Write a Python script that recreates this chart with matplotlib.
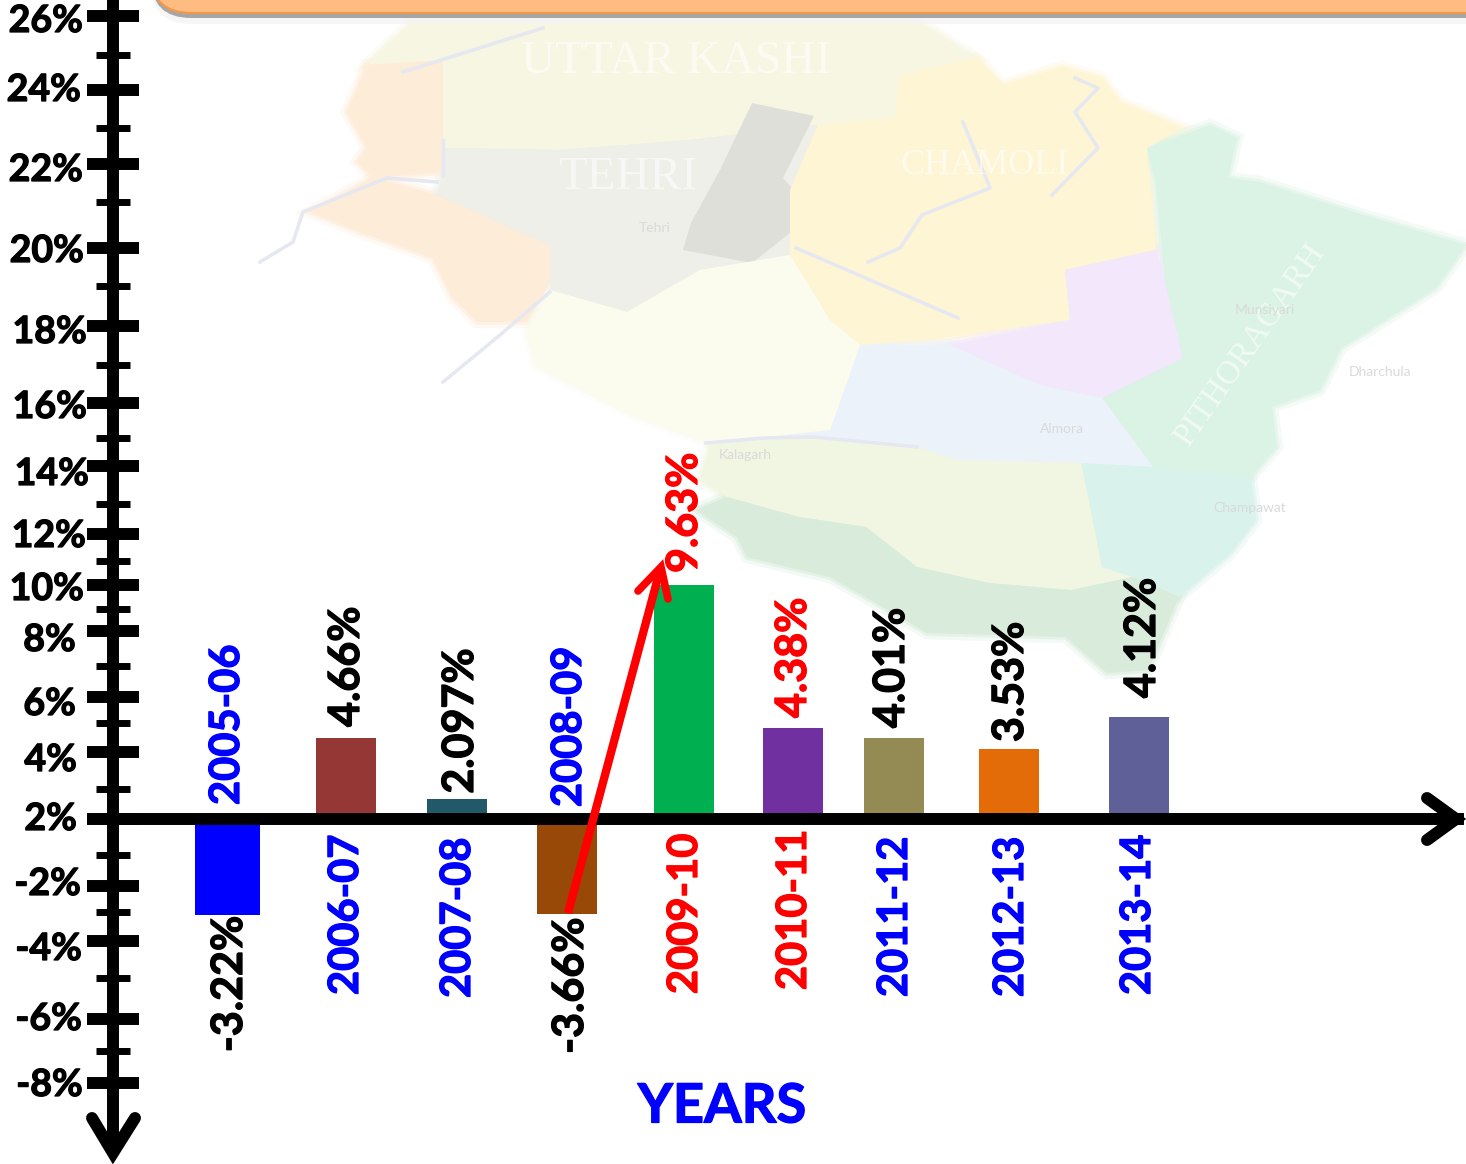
import numpy as np
import matplotlib
matplotlib.use("Agg")
import matplotlib.pyplot as plt
import matplotlib.patheffects as pe
from matplotlib.patches import Polygon, FancyBboxPatch
from matplotlib.transforms import Affine2D

# =============================
# Data
# =============================
years = ["2005-06", "2006-07", "2007-08", "2008-09", "2009-10",
         "2010-11", "2011-12", "2012-13", "2013-14"]
value_labels = ["-3.22%", "4.66%", "2.097%", "-3.66%", "9.63%",
                "4.38%", "4.01%", "3.53%", "4.12%"]
# bar ends as read against the drawn axis (it is not to scale with the labels)
bar_ends = [-3.1, 4.5, 2.67, -3.07, 10.0, 4.83, 4.48, 4.1, 5.23]
major_ticks = [26, 24, 22, 20, 18, 16, 14, 12, 10, 8, 6, 4, 2, -2, -4, -6, -8]
minor_ticks = [25, 23, 21, 19, 17, 15, 13, 11, 9, 7, 5, 3, 0, -3, -5, -7]

# =============================
# Layout (pixels of the 1466x1164 picture)
# =============================
W, H = 1466, 1164
BASELINE = 2

# the printed axis has uneven gaps, so the y scale is piecewise
scale_vals = [-10, -8, -7, -6, -5, -4, -3, -2, 0, 2, 3, 4, 5, 6, 7, 8, 9, 10,
              11, 12, 13, 14, 15, 16, 17, 18, 19, 20, 21, 22, 23, 24, 25, 26, 26.5]
scale_pix = [1164, 1083, 1051, 1019, 978, 941, 912, 886, 855, 819, 789, 752, 723, 697,
             666, 631, 609, 585, 561, 534, 504, 466, 438, 403, 365, 326, 286, 248,
             202, 164, 128, 90, 55, 16, 0]

bar_x = [227.5, 346, 457, 567, 684, 793, 894, 1009, 1139]
bar_w = [65, 60, 60, 60, 60, 60, 60, 60, 60]
bar_colors = ["#0000FF", "#953735", "#215968", "#984807", "#00B050",
              "#7030A0", "#948A54", "#E36C09", "#5F6098"]

year_x = [227, 346, 458, 569, 685, 794, 895, 1011, 1138]
year_y = [725, 915, 918, 727, 914, 910, 917, 917, 915]
year_colors = ["blue", "blue", "blue", "blue", "red", "red", "blue", "blue", "blue"]
val_x = [229, 346, 460, 570, 684, 793, 891, 1010, 1142]
val_y = [984, 667, 721, 986, 513, 658, 668, 682, 638]
val_colors = ["black", "black", "black", "black", "red", "red", "black", "black", "black"]

label_right = [83, 81, 83, 84, 87, 87, 89, 86, 84, 76, 76, 77, 77, 81, 82, 82, 83]
label_y = [21, 90, 170, 251, 332, 407, 474, 536, 589, 640, 704, 760, 819, 884, 949, 1019, 1085]

# faint map behind the chart
map_regions = [
    ("#F6F6E2", [(417, 18), (913, 18), (976, 58), (900, 75), (895, 118), (818, 125), (690, 140), (560, 150),
                 (443, 148), (443, 60), (367, 65), (387, 45)]),
    ("#FDECD8", [(367, 65), (443, 60), (443, 172), (373, 178), (357, 162), (367, 148), (347, 112)]),
    ("#FDECD8", [(373, 178), (437, 195), (550, 245), (550, 282), (527, 322), (477, 322), (453, 298),
                 (433, 258), (360, 232), (310, 212)]),
    ("#EDEFE8", [(443, 148), (560, 150), (690, 140), (818, 125), (790, 190), (790, 255), (700, 270), (627, 312),
                 (550, 290), (550, 245), (437, 195), (443, 172)]),
    ("#DFDFDA", [(752, 103), (814, 116), (783, 178), (814, 214), (752, 263), (683, 250), (691, 223), (720, 170)]),
    ("#FEF5D4", [(900, 75), (976, 58), (1003, 85), (1062, 67), (1102, 78), (1120, 102), (1183, 128), (1147, 148),
                 (1156, 250), (1065, 270), (1070, 320), (925, 340), (860, 345), (830, 320), (790, 255),
                 (790, 190), (818, 125), (895, 118)]),
    ("#DBF3E4", [(1147, 148), (1210, 125), (1237, 138), (1228, 178), (1260, 182), (1363, 215), (1466, 245),
                 (1436, 288), (1341, 348), (1320, 390), (1272, 407), (1277, 447), (1251, 477), (1153, 467),
                 (1102, 398), (1183, 358), (1165, 282), (1156, 182)]),
    ("#F3E7FB", [(1065, 270), (1156, 250), (1165, 282), (1183, 358), (1102, 398), (1040, 385), (950, 345), (1070, 320)]),
    ("#EBF2F9", [(860, 345), (950, 345), (1040, 385), (1102, 398), (1153, 467), (1081, 463), (958, 460),
                 (917, 447), (814, 437), (711, 443), (830, 430)]),
    ("#FBFBEE", [(527, 332), (550, 290), (627, 312), (700, 270), (790, 255), (830, 320), (860, 345), (830, 430),
                 (711, 443), (627, 412), (537, 365)]),
    ("#F1F6E2", [(711, 443), (814, 437), (917, 447), (958, 460), (1081, 463), (1087, 490), (1102, 567), (1133, 577),
                 (1071, 590), (989, 583), (917, 567), (866, 527), (799, 517), (727, 497), (700, 480)]),
    ("#D9F2EB", [(1087, 490), (1081, 463), (1153, 467), (1251, 477), (1256, 520), (1231, 553), (1179, 597),
                 (1133, 577), (1102, 567)]),
    ("#D9ECDB", [(696, 510), (727, 497), (799, 517), (866, 527), (917, 567), (989, 583), (1071, 590), (1133, 577),
                 (1179, 597), (1148, 670), (1107, 673), (1066, 637), (927, 633), (876, 603), (830, 577),
                 (747, 557), (737, 537)]),
]
rivers = [
    [(260, 262), (293, 242), (303, 212), (387, 178), (437, 182)],
    [(443, 382), (500, 335), (550, 292)],
    [(403, 72), (543, 28)],
    [(443, 140), (443, 175)],
    [(1075, 78), (1098, 88), (1075, 112), (1098, 148), (1052, 195)],
    [(963, 122), (990, 188), (922, 215), (900, 248), (868, 262)],
    [(796, 248), (958, 318)],
    [(706, 443), (763, 438), (814, 437), (917, 447)],
]
map_titles = [("UTTAR KASHI", 676, 62, 0, 34), ("TEHRI", 628, 178, 0, 34),
              ("CHAMOLI", 985, 165, 0, 26), ("PITHORAGARH", 1250, 345, 55, 24)]
map_places = [("Tehri", 655, 228), ("Kalagarh", 745, 455), ("Almora", 1062, 429),
              ("Munsiyari", 1265, 310), ("Dharchula", 1380, 372), ("Champawat", 1250, 508)]

# =============================
# Figure and scale
# =============================
plt.rcParams["font.family"] = ["Lato", "DejaVu Sans"]
plt.rcParams["font.weight"] = "bold"

fig = plt.figure(figsize=(W / 100, H / 100), dpi=100)
ax = fig.add_axes([0, 0, 1, 1])
ax.patch.set_alpha(0)

pix_up = -np.array(scale_pix, dtype=float)

def forward(v):
    return np.interp(v, scale_vals, pix_up)

def inverse(p):
    return np.interp(p, pix_up, scale_vals)

ax.set_yscale("function", functions=(forward, inverse))
ax.set_xlim(0, W)
ax.set_ylim(-10, 26.5)

# picture pixels, top-left origin
px = Affine2D().scale(1, -1).translate(0, H)

def label(x, y, s, color, size, **kw):
    # Calibri bold is heavier than Lato bold, a thin stroke makes up for it
    ax.text(x, y, s, color=color, fontsize=size, va="center", transform=px, zorder=5,
            path_effects=[pe.withStroke(linewidth=0.9, foreground=color)], **kw)

# =============================
# Background map and header box
# =============================
for color, pts in map_regions:
    # wide see-through edges keep the borders as soft as in the blurred map
    ax.add_patch(Polygon(pts, closed=True, fc="none", ec=color, lw=9, alpha=0.3, transform=px, zorder=0))
    ax.add_patch(Polygon(pts, closed=True, fc=color, ec=color, lw=4, alpha=0.5, transform=px, zorder=0))
    ax.add_patch(Polygon(pts, closed=True, fc=color, ec="none", transform=px, zorder=0.1))
for pts in rivers:
    xs, ys = zip(*pts)
    ax.plot(xs, ys, color="#E5E7F1", lw=2.5, transform=px, zorder=0.5)
for s, x, y, rot, size in map_titles:
    ax.text(x, y, s, color="white", alpha=0.6, fontsize=size, rotation=rot, ha="center", va="center",
            family="Liberation Serif", fontweight="normal", transform=px, zorder=0.6)
for s, x, y in map_places:
    ax.text(x, y, s, color="#DADADA", fontsize=10, ha="center", va="center",
            fontweight="normal", transform=px, zorder=0.6)

ax.add_patch(FancyBboxPatch((151, -60), 1400, 84, boxstyle="round,pad=0,rounding_size=40",
                            fc="#F4F4F4", ec="none", alpha=0.8, transform=px, zorder=1))
ax.add_patch(FancyBboxPatch((151, -60), 1400, 78, boxstyle="round,pad=0,rounding_size=40",
                            fc="#A6A6A6", ec="none", transform=px, zorder=1.05))
ax.add_patch(FancyBboxPatch((151, -60), 1400, 73, boxstyle="round,pad=0,rounding_size=40",
                            fc="#FFBC80", ec="#F79646", lw=1.5, transform=px, zorder=1.1))

# =============================
# Bars
# =============================
ax.bar(bar_x, np.array(bar_ends) - BASELINE, bottom=BASELINE, width=bar_w,
       color=bar_colors, zorder=2)

# =============================
# Axes
# =============================
for side in ["top", "right"]:
    ax.spines[side].set_visible(False)
ax.spines["left"].set_position(("data", 112.5))
ax.spines["bottom"].set_position(("data", BASELINE))
ax.spines["left"].set_linewidth(8.6)
ax.spines["bottom"].set_linewidth(8.6)
ax.spines["bottom"].set_bounds(107, 1458)
ax.spines["left"].set_bounds(-9.5, 26.5)

ax.set_xticks([])
ax.set_yticks(major_ticks)
ax.set_yticks(minor_ticks, minor=True)
ax.set_yticklabels([])
ax.tick_params(axis="y", which="major", direction="inout", length=38, width=8.6)
ax.tick_params(axis="y", which="minor", direction="inout", length=25, width=5)

for v, right, y in zip(major_ticks, label_right, label_y):
    label(right, y, f"{v}%", "black", 27, ha="right")

# axis arrow heads
ax.plot([1427, 1456, 1427], [798, 819, 840], color="black", lw=8.6, transform=px,
        solid_capstyle="round", solid_joinstyle="miter", zorder=4)
ax.plot([92, 113, 135], [1118, 1153, 1118], color="black", lw=8.6, transform=px,
        solid_capstyle="round", solid_joinstyle="miter", zorder=4)

# =============================
# Labels
# =============================
for t, x, y, c in zip(years, year_x, year_y, year_colors):
    label(x, y, t, c, 30, rotation=90, ha="center")
for t, x, y, c in zip(value_labels, val_x, val_y, val_colors):
    label(x, y, t, c, 31, rotation=90, ha="center")
label(722, 1107, "YEARS", "blue", 39, ha="center")

# red arrow from the 2008-09 drop to the 2009-10 peak
ax.plot([568, 660], [913, 570], color="red", lw=6, transform=px, solid_capstyle="butt", zorder=6)
ax.plot([638, 661, 668], [591, 567, 599], color="red", lw=5.5, transform=px,
        solid_capstyle="round", solid_joinstyle="miter", zorder=6)

plt.savefig("out.png", dpi=100)
